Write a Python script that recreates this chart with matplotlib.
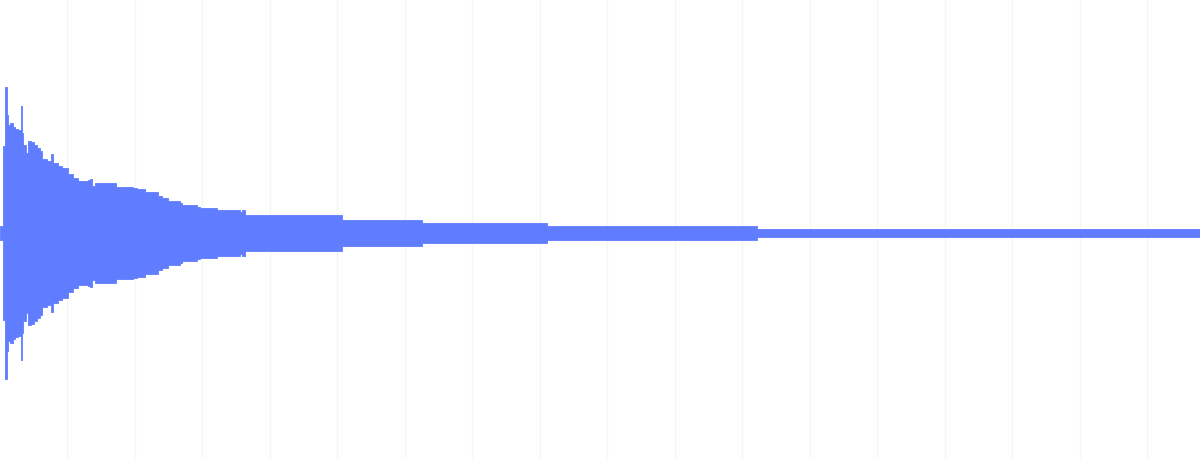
import numpy as np
import matplotlib
matplotlib.use('Agg')
import matplotlib.pyplot as plt

# waveform envelope (time in s, amplitude normalised to peak)
t_env = [0.000, 0.044, 0.049, 0.079, 0.099, 0.119, 0.148, 0.193, 0.222, 0.267,
         0.307, 0.330, 0.348, 0.385, 0.415, 0.459, 0.504, 0.548, 0.593, 0.622,
         0.696, 0.756, 0.785, 0.859, 0.919, 1.007, 1.081, 1.156, 1.304, 1.333,
         1.363, 1.407, 1.674, 1.719, 1.970, 2.030, 2.148, 2.341, 2.400, 2.489,
         2.667, 2.696, 2.919, 2.963, 3.215, 3.556, 3.585, 3.630, 5.037, 5.067,
         6.222, 6.252, 8.074, 8.104, 11.185, 11.215, 17.78]
amp_env = [0.048, 0.048, 0.596, 1.000, 0.808, 0.740, 0.753, 0.726, 0.712, 0.705,
           0.870, 0.685, 0.603, 0.548, 0.630, 0.623, 0.603, 0.582, 0.562, 0.507,
           0.493, 0.541, 0.479, 0.459, 0.445, 0.404, 0.377, 0.356, 0.363, 0.370,
           0.322, 0.342, 0.342, 0.315, 0.308, 0.301, 0.281, 0.253, 0.240, 0.219,
           0.205, 0.192, 0.178, 0.171, 0.158, 0.144, 0.158, 0.123, 0.123, 0.089,
           0.089, 0.068, 0.068, 0.046, 0.046, 0.025, 0.025]

color = '#607dff'

fig = plt.figure(figsize=(12, 4.58), dpi=100)
ax = fig.add_axes([0, 0, 1, 1])

t = np.array(t_env)
a = np.array(amp_env)
ax.fill_between(t, -a, a, step='post', color=color, linewidth=0.6, edgecolor=color)

ax.set_xlim(0, 17.78)
ax.set_ylim(-225 / 146., 233 / 146.)
ax.set_xticks(np.arange(1, 18))
ax.set_yticks([])
ax.tick_params(length=0, labelbottom=False, labelleft=False)
ax.grid(axis='x', color='#f5f5f7', linewidth=1.0)
ax.set_axisbelow(True)
for s in ax.spines.values():
    s.set_visible(False)

fig.savefig('out.png', dpi=100)
